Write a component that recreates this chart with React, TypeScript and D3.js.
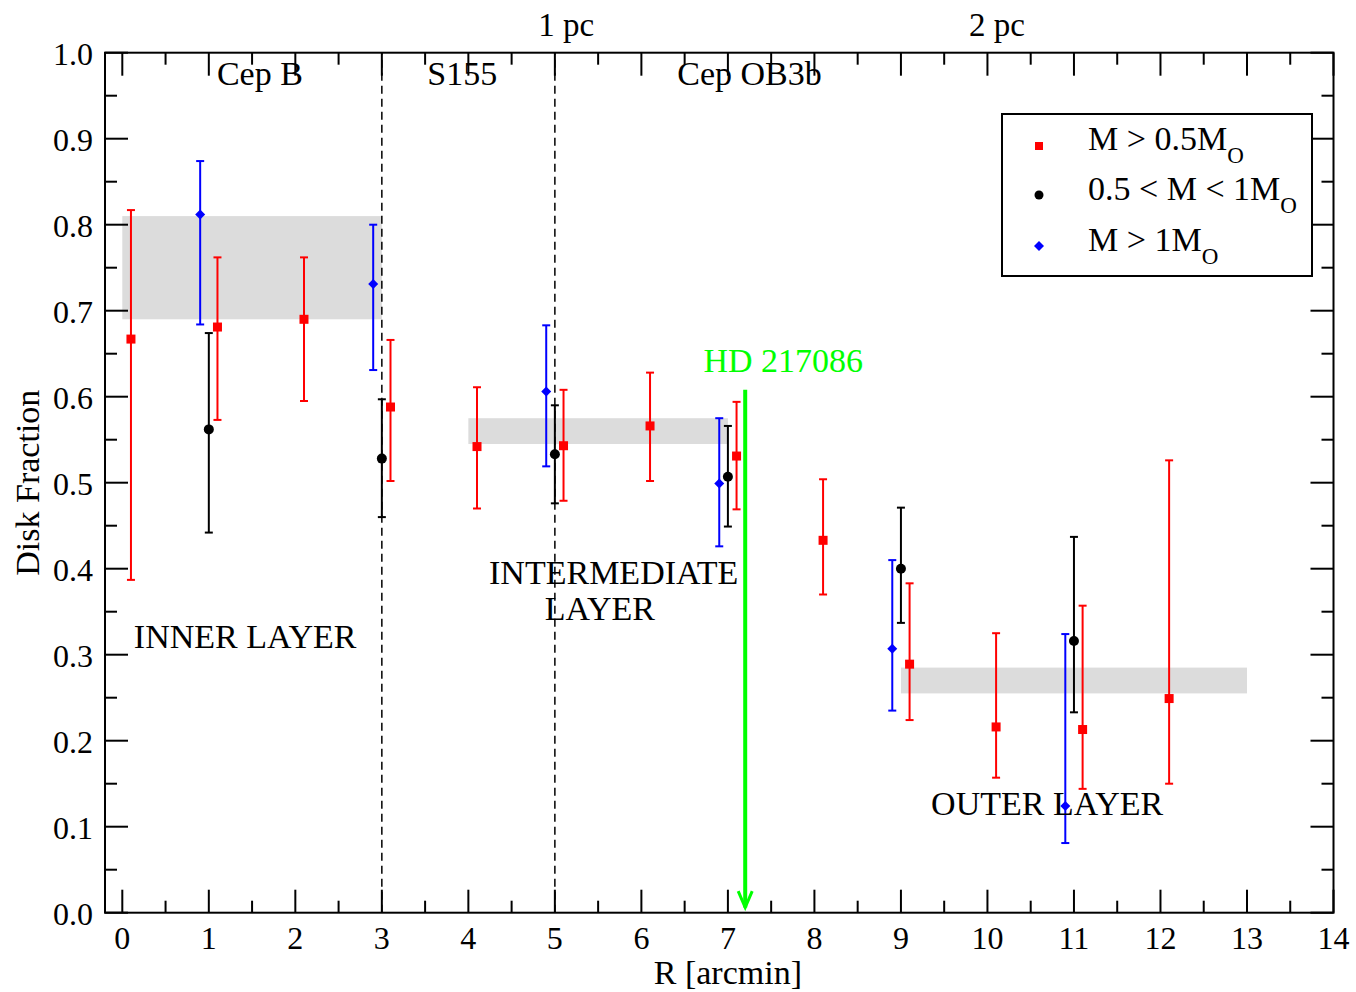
import React from "react";
import * as d3 from "d3";

// red squares: M > 0.5 Mo
const redR = [0.1, 1.1, 2.1, 3.1, 4.1, 5.1, 6.1, 7.1, 8.1, 9.1, 10.1, 11.1, 12.1];
const redF = [0.667, 0.681, 0.69, 0.588, 0.542, 0.543, 0.566, 0.531, 0.433, 0.289, 0.216, 0.213, 0.249];
const redHi = [0.817, 0.762, 0.762, 0.666, 0.611, 0.608, 0.628, 0.594, 0.504, 0.383, 0.325, 0.357, 0.526];
const redLo = [0.387, 0.573, 0.595, 0.502, 0.47, 0.479, 0.502, 0.469, 0.37, 0.224, 0.157, 0.144, 0.15];

// black circles: 0.5 < M < 1 Mo
const blackR = [1, 3, 5, 7, 9, 11];
const blackF = [0.562, 0.528, 0.533, 0.507, 0.4, 0.316];
const blackHi = [0.674, 0.597, 0.59, 0.566, 0.471, 0.437];
const blackLo = [0.442, 0.46, 0.476, 0.449, 0.337, 0.233];

// blue diamonds: M > 1 Mo
const blueR = [0.9, 2.9, 4.9, 6.9, 8.9, 10.9];
const blueF = [0.812, 0.731, 0.606, 0.499, 0.307, 0.124];
const blueHi = [0.874, 0.8, 0.683, 0.575, 0.41, 0.324];
const blueLo = [0.684, 0.631, 0.519, 0.426, 0.235, 0.081];

// grey layer bands
const bandX0 = [0, 4, 9];
const bandX1 = [3, 7, 13];
const bandLo = [0.69, 0.545, 0.255];
const bandHi = [0.81, 0.575, 0.285];

const regionBounds = [3, 5];
const hdR = 7.2;
const hdTop = 0.608;

const xTicks = d3.range(0, 15);
const xMinorTicks = d3.range(0.5, 14, 1);
const yTicks = d3.range(0, 11).map((i) => i / 10);
const yMinorTicks = d3.range(0, 10).map((i) => i / 10 + 0.05);

const FONT = "'Liberation Serif', 'Times New Roman', serif";

const x = d3.scaleLinear().domain([-0.2, 14]).range([105, 1333.5]);
const y = d3.scaleLinear().domain([0, 1]).range([912.7, 52.7]);

const Square = ({ cx, cy, s, fill }: any) => (
  <rect x={cx - s / 2} y={cy - s / 2} width={s} height={s} fill={fill} />
);
const Diamond = ({ cx, cy, r, fill }: any) => (
  <path d={`M${cx},${cy - r}L${cx + r},${cy}L${cx},${cy + r}L${cx - r},${cy}Z`} fill={fill} />
);

const ErrBar = ({ xv, lo, hi, color }: any) => {
  const px = x(xv);
  return (
    <g stroke={color} strokeWidth={2}>
      <line x1={px} x2={px} y1={y(lo)} y2={y(hi)} />
      <line x1={px - 4} x2={px + 4} y1={y(lo)} y2={y(lo)} />
      <line x1={px - 4} x2={px + 4} y1={y(hi)} y2={y(hi)} />
    </g>
  );
};

const App = () => {
  const [x0, x1] = x.range();
  const [yb, yt] = y.range();
  const txt = { fontFamily: FONT, fontSize: 34, fill: "#000" } as any;

  return (
    <svg
      width={1356}
      height={992}
      style={{ position: "absolute", left: 0, top: 0, background: "#fff" }}
    >
      {/* bands */}
      {bandX0.map((b, i) => (
        <rect
          key={"b" + i}
          x={x(b)}
          y={y(bandHi[i])}
          width={x(bandX1[i]) - x(b)}
          height={y(bandLo[i]) - y(bandHi[i])}
          fill="#dcdcdc"
        />
      ))}

      {/* region boundaries */}
      {regionBounds.map((r) => (
        <line key={"d" + r} x1={x(r)} x2={x(r)} y1={yb} y2={yt} stroke="#000" strokeWidth={1.5} strokeDasharray="8,5" />
      ))}

      {/* ticks on all four sides */}
      <g stroke="#000" strokeWidth={2}>
        {xTicks.map((t) => (
          <g key={"xt" + t}>
            <line x1={x(t)} x2={x(t)} y1={yb} y2={yb - 23} />
            <line x1={x(t)} x2={x(t)} y1={yt} y2={yt + 23} />
          </g>
        ))}
        {xMinorTicks.map((t) => (
          <g key={"xm" + t}>
            <line x1={x(t)} x2={x(t)} y1={yb} y2={yb - 12} />
            <line x1={x(t)} x2={x(t)} y1={yt} y2={yt + 12} />
          </g>
        ))}
        {yTicks.map((t) => (
          <g key={"yt" + t}>
            <line x1={x0} x2={x0 + 23} y1={y(t)} y2={y(t)} />
            <line x1={x1} x2={x1 - 23} y1={y(t)} y2={y(t)} />
          </g>
        ))}
        {yMinorTicks.map((t) => (
          <g key={"ym" + t}>
            <line x1={x0} x2={x0 + 12} y1={y(t)} y2={y(t)} />
            <line x1={x1} x2={x1 - 12} y1={y(t)} y2={y(t)} />
          </g>
        ))}
      </g>

      {/* tick labels */}
      {xTicks.map((t) => (
        <text key={"xl" + t} x={x(t)} y={yb + 36} textAnchor="middle" style={{ ...txt, fontSize: 32 }}>
          {t}
        </text>
      ))}
      {yTicks.map((t) => (
        <text key={"yl" + t} x={x0 - 12} y={y(t) + 12} textAnchor="end" style={{ ...txt, fontSize: 32 }}>
          {t.toFixed(1)}
        </text>
      ))}

      {/* axis titles */}
      <text x={x(7)} y={984} textAnchor="middle" style={txt}>R [arcmin]</text>
      <text transform={`translate(39,${(yb + yt) / 2}) rotate(-90)`} textAnchor="middle" style={txt}>
        Disk Fraction
      </text>

      {/* error bars */}
      {redR.map((r, i) => <ErrBar key={"re" + i} xv={r} lo={redLo[i]} hi={redHi[i]} color="#ff0000" />)}
      {blackR.map((r, i) => <ErrBar key={"ke" + i} xv={r} lo={blackLo[i]} hi={blackHi[i]} color="#000" />)}
      {blueR.map((r, i) => <ErrBar key={"be" + i} xv={r} lo={blueLo[i]} hi={blueHi[i]} color="#0000ff" />)}

      {/* markers */}
      {redR.map((r, i) => <Square key={"rm" + i} cx={x(r)} cy={y(redF[i])} s={9} fill="#ff0000" />)}
      {blackR.map((r, i) => <circle key={"km" + i} cx={x(r)} cy={y(blackF[i])} r={5} fill="#000" />)}
      {blueR.map((r, i) => <Diamond key={"bm" + i} cx={x(r)} cy={y(blueF[i])} r={5} fill="#0000ff" />)}

      {/* HD 217086 arrow */}
      <g stroke="#00ff00" strokeWidth={4} fill="none">
        <line x1={x(hdR)} x2={x(hdR)} y1={y(hdTop)} y2={y(0.006)} />
        <polyline points={`${x(hdR) - 7},${y(0.025)} ${x(hdR)},${y(0.006)} ${x(hdR) + 7},${y(0.025)}`} strokeWidth={3} />
      </g>
      <text x={x(7.64)} y={y(0.629)} textAnchor="middle" style={{ ...txt, fill: "#00ff00" }}>HD 217086</text>

      {/* annotations */}
      <text x={x(1.59)} y={y(0.962)} textAnchor="middle" style={txt}>Cep B</text>
      <text x={x(3.93)} y={y(0.962)} textAnchor="middle" style={txt}>S155</text>
      <text x={x(7.25)} y={y(0.962)} textAnchor="middle" style={txt}>Cep OB3b</text>
      <text x={x(5.13)} y={y(1.019)} textAnchor="middle" style={{ ...txt, fontSize: 33 }}>1 pc</text>
      <text x={x(10.11)} y={y(1.019)} textAnchor="middle" style={{ ...txt, fontSize: 33 }}>2 pc</text>
      <text x={x(1.42)} y={y(0.308)} textAnchor="middle" style={txt}>INNER LAYER</text>
      <text x={x(5.68)} y={y(0.382)} textAnchor="middle" style={txt}>INTERMEDIATE</text>
      <text x={x(5.52)} y={y(0.3405)} textAnchor="middle" style={txt}>LAYER</text>
      <text x={x(10.69)} y={y(0.1136)} textAnchor="middle" style={txt}>OUTER LAYER</text>

      {/* frame */}
      <rect x={x0} y={yt} width={x1 - x0} height={yb - yt} fill="none" stroke="#000" strokeWidth={2} />

      {/* legend */}
      <g>
        <rect x={1002} y={114} width={310} height={162} fill="#fff" stroke="#000" strokeWidth={2} />
        <Square cx={1039} cy={146} s={8} fill="#ff0000" />
        <circle cx={1039} cy={195} r={4.5} fill="#000" />
        <Diamond cx={1039} cy={246} r={5} fill="#0000ff" />
        <text x={1088} y={150} style={txt}>
          M &gt; 0.5M<tspan dy={13} fontSize={23}>O</tspan>
        </text>
        <text x={1088} y={200} style={txt}>
          0.5 &lt; M &lt; 1M<tspan dy={13} fontSize={23}>O</tspan>
        </text>
        <text x={1088} y={251} style={txt}>
          M &gt; 1M<tspan dy={13} fontSize={23}>O</tspan>
        </text>
      </g>
    </svg>
  );
};

export default App;
